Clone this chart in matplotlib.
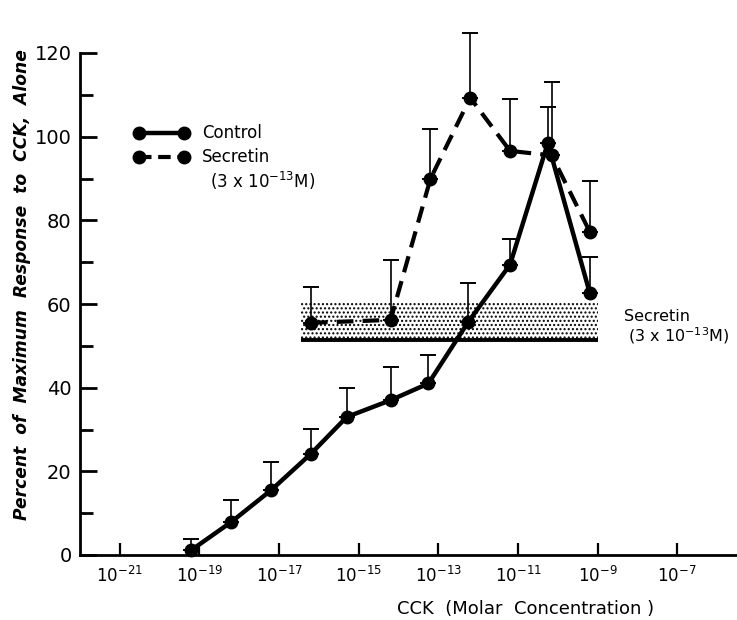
import numpy as np
import matplotlib
matplotlib.use("Agg")
import matplotlib.pyplot as plt

# ---- data (log10 of molar CCK concentration) ----
control_logc = [-19.2, -18.2, -17.2, -16.2, -15.3, -14.2, -13.25, -12.25, -11.2, -10.25, -9.2]
control_mean = [1.2, 7.9, 15.5, 24.2, 33.0, 37.0, 41.0, 55.7, 69.4, 98.5, 62.7]
control_sem = [2.6, 5.3, 6.7, 5.9, 7.0, 8.0, 6.8, 9.3, 6.2, 8.5, 8.6]

secretin_logc = [-16.2, -14.2, -13.2, -12.2, -11.2, -10.15, -9.2]
secretin_mean = [55.5, 56.2, 89.9, 109.3, 96.6, 95.5, 77.3]
secretin_sem = [8.6, 14.4, 12.0, 15.6, 12.4, 17.5, 12.2]

band_logc = [-16.45, -9.0]
band_low = 51.4
band_high = 60.5

xtick_exp = [-21, -19, -17, -15, -13, -11, -9, -7]
yticks_major = [0, 20, 40, 60, 80, 100, 120]
yticks_minor = [10, 30, 50, 70, 90, 110]

plt.rcParams['font.family'] = ['DejaVu Sans']

fig = plt.figure(figsize=(7.37, 6.2), dpi=100)
ax = fig.add_axes([80/737, 65/620, 657/737, 502/620])

cx = 10.0 ** np.array(control_logc)
sx = 10.0 ** np.array(secretin_logc)

# stippled band for secretin alone
bx = 10.0 ** np.array(band_logc)
ax.fill_between(bx, band_low, band_high, facecolor='white', edgecolor='black',
                hatch='....', linewidth=0, zorder=1)
ax.plot(bx, [band_low, band_low], color='black', lw=2.8, solid_capstyle='butt', zorder=2)

# error bars (upward only)
ax.errorbar(cx, control_mean, yerr=[np.zeros(len(control_sem)), control_sem],
            fmt='none', ecolor='black', elinewidth=1.2, capsize=6, capthick=1.4,
            zorder=3, clip_on=False)
ax.errorbar(sx, secretin_mean, yerr=[np.zeros(len(secretin_sem)), secretin_sem],
            fmt='none', ecolor='black', elinewidth=1.2, capsize=6, capthick=1.4,
            zorder=3, clip_on=False)

ax.plot(cx, control_mean, '-o', color='black', lw=3.2, ms=9, zorder=4, clip_on=False)
ax.plot(sx, secretin_mean, '--o', color='black', lw=3.0, ms=9, dashes=(4, 2.2),
        zorder=4, clip_on=False)

ax.set_xscale('log')
ax.set_xlim(10.0 ** -22.0, 10.0 ** -5.5)
ax.set_ylim(0, 120)

ax.spines['top'].set_visible(False)
ax.spines['right'].set_visible(False)
ax.spines['left'].set_linewidth(2.0)
ax.spines['bottom'].set_linewidth(2.0)

ax.set_xticks([10.0 ** e for e in xtick_exp])
ax.set_xticklabels(['$10^{%d}$' % e for e in xtick_exp], fontsize=12)
ax.xaxis.set_minor_locator(matplotlib.ticker.NullLocator())
ax.tick_params(axis='x', direction='in', length=9, width=1.6, pad=8)

ax.set_yticks(yticks_major)
ax.set_yticklabels([str(v) for v in yticks_major], fontsize=14)
ax.set_yticks(yticks_minor, minor=True)
ax.tick_params(axis='y', which='major', direction='in', length=12, width=2, pad=6)
ax.tick_params(axis='y', which='minor', direction='in', length=9, width=2)

ax.set_xlabel('CCK  (Molar  Concentration )', fontsize=13, labelpad=10,
              x=(526 - 80) / 657)
fig.text(22 / 737, 1 - 285 / 620, 'Percent  of  Maximum  Response  to  CCK,  Alone',
         fontsize=12.3, style='italic', fontweight='bold', rotation=90,
         ha='center', va='center')

# legend drawn manually
def px2data(px, py):
    return ax.transData.inverted().transform(
        fig.transFigure.transform((px / 737, 1 - py / 620)))

(x0, y0) = px2data(139, 133)
(x1, _) = px2data(184, 133)
ax.plot([x0, x1], [y0, y0], '-o', color='black', lw=3.2, ms=9, clip_on=False)
(x0, y1) = px2data(139, 157)
ax.plot([x0, x1], [y1, y1], '--o', color='black', lw=3.0, ms=9, dashes=(3, 1.6),
        clip_on=False)
fig.text(202 / 737, 1 - 133 / 620, 'Control', fontsize=12, va='center')
fig.text(202 / 737, 1 - 157 / 620, 'Secretin', fontsize=12, va='center')
fig.text(210 / 737, 1 - 181 / 620, '(3 x $10^{-13}$M)', fontsize=12, va='center')

fig.text(624 / 737, 1 - 317 / 620, 'Secretin', fontsize=11.5, va='center')
fig.text(628 / 737, 1 - 336 / 620, '(3 x $10^{-13}$M)', fontsize=11.5, va='center')

fig.savefig('out.png', dpi=100)
